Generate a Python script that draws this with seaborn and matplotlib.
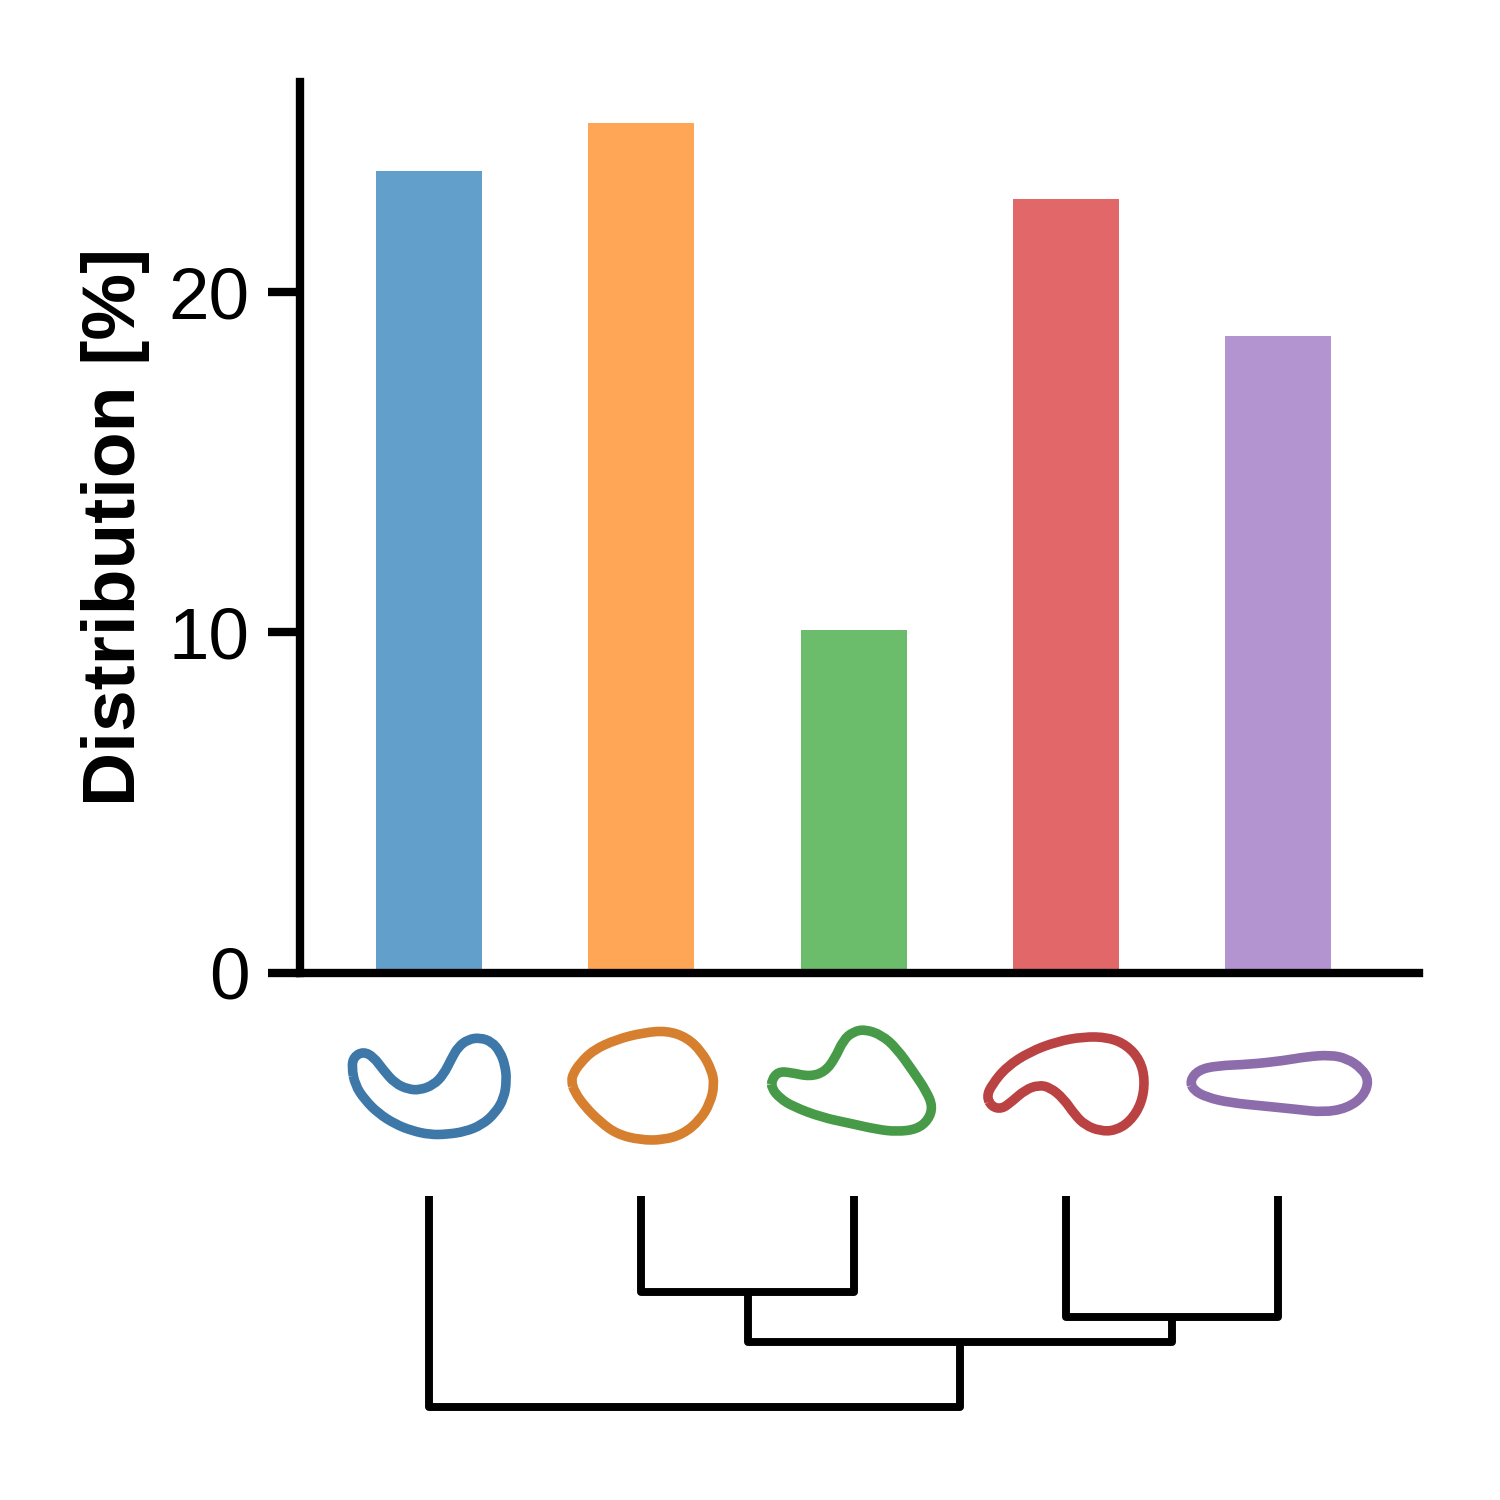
import numpy as np
import pandas as pd
import seaborn as sns
import matplotlib.pyplot as plt
from matplotlib.path import Path
from matplotlib.patches import PathPatch

sns.set_style('ticks')
plt.rcParams['font.family'] = ['Liberation Sans', 'DejaVu Sans']

# bar values
clusters = ['c1', 'c2', 'c3', 'c4', 'c5']
distribution = [23.57, 24.98, 10.07, 22.75, 18.72]
bar_colors = ['#1f77b4', '#ff7f0e', '#2ca02c', '#d62728', '#9467bd']
line_colors = ['#3d78a8', '#d67f2e', '#479a48', '#bb4243', '#8d6cab']
y_ticks = [0, 10, 20]

# outlines, x and y per shape
blue_x = [65, 72, 100, 130, 160, 195, 235, 270, 310, 340, 365, 385, 415, 450, 485, 510, 525, 530, 522, 495, 455, 405, 350, 300, 245, 195, 145, 105, 75]
blue_y = [170, 140, 125, 140, 180, 220, 238, 240, 225, 195, 145, 110, 88, 83, 95, 125, 165, 210, 265, 310, 345, 365, 373, 374, 362, 342, 310, 270, 225]
orange_x = [724, 730, 750, 790, 860, 940, 1010, 1070, 1115, 1145, 1153, 1140, 1110, 1060, 1000, 930, 860, 810, 765, 733]
orange_y = [213, 190, 160, 120, 88, 68, 62, 82, 125, 180, 225, 280, 330, 372, 390, 390, 372, 335, 290, 245]
green_x = [65, 85, 120, 180, 225, 255, 280, 310, 345, 395, 440, 490, 530, 548, 535, 500, 440, 380, 300, 215, 130, 90, 65]
green_y = [210, 185, 187, 200, 185, 145, 90, 65, 58, 75, 115, 185, 245, 290, 330, 358, 365, 358, 340, 322, 290, 265, 235]
red_x = [710, 725, 770, 840, 920, 1000, 1075, 1130, 1170, 1185, 1175, 1140, 1095, 1050, 1005, 975, 940, 900, 865, 825, 785, 755, 725]
red_y = [260, 225, 170, 125, 95, 80, 82, 105, 150, 210, 280, 335, 362, 363, 345, 315, 265, 232, 225, 240, 275, 297, 290]
purple_x = [180, 205, 260, 360, 460, 530, 600, 650, 695, 717, 700, 650, 580, 500, 400, 300, 230, 190]
purple_y = [212, 180, 167, 163, 152, 140, 135, 145, 175, 212, 260, 295, 307, 298, 288, 278, 262, 240]

# dendrogram: left leaf/link, right leaf/link, merge height
link_1 = (1, 2, 96)
link_2 = (3, 4, 121)
link_3_height = 146
link_4_height = 211

fig = plt.figure(figsize=(5, 5), dpi=300)
ax = fig.add_axes([300 / 1500, 1 - 972.5 / 1500, 1119 / 1500, 891 / 1500])

df = pd.DataFrame({'cluster': clusters, 'value': distribution})
sns.barplot(data=df, x='cluster', y='value', hue='cluster', palette=bar_colors,
            saturation=1, alpha=0.7, width=0.5, legend=False, linewidth=0, ax=ax)
ax.set_xlim(-0.608, 4.663)
ax.set_ylim(0, 26.2)
ax.set_yticks(y_ticks)
ax.set_xticks([])
ax.set_xlabel('')
ax.set_ylabel('Distribution [%]', fontsize=18, fontweight='bold', color='black', labelpad=4.5)
ax.tick_params(axis='y', length=7.7, width=2, labelsize=17.5, pad=4.3, color='black', labelcolor='black')
sns.despine(ax=ax)
for side in ['left', 'bottom']:
    ax.spines[side].set_linewidth(2)
    ax.spines[side].set_color('black')

# shapes, axes in picture pixels
shape_ax = fig.add_axes([0, 0, 1, 1])
shape_ax.set_xlim(0, 1500)
shape_ax.set_ylim(1500, 0)
shape_ax.axis('off')

shapes = [(blue_x, blue_y, 330, 1010), (orange_x, orange_y, 330, 1010), (green_x, green_y, 750, 1010),
          (red_x, red_y, 750, 1010), (purple_x, purple_y, 1130, 1010)]
for (sx, sy, x0, y0), col in zip(shapes, line_colors):
    pts = np.column_stack([np.array(sx) / 3 + x0, np.array(sy) / 3 + y0])
    mids = (pts + np.roll(pts, -1, axis=0)) / 2
    verts = [mids[-1]]
    codes = [Path.MOVETO]
    for p, m in zip(pts, mids):
        verts += [p, m]
        codes += [Path.CURVE3, Path.CURVE3]
    shape_ax.add_patch(PathPatch(Path(verts, codes), fill=False, edgecolor=col, lw=2.3))

# dendrogram shares the bar x scale
tree_ax = fig.add_axes([300 / 1500, 1 - 1420 / 1500, 1119 / 1500, 224 / 1500])
tree_ax.set_xlim(ax.get_xlim())
tree_ax.set_ylim(224, 0)
tree_ax.axis('off')


def draw_link(x_l, h_l, x_r, h_r, h):
    tree_ax.plot([x_l, x_l, x_r, x_r], [h_l, h, h, h_r], color='black', lw=1.9,
                 solid_joinstyle='round', solid_capstyle='butt', clip_on=False)
    return (x_l + x_r) / 2


mid_1 = draw_link(link_1[0], 0, link_1[1], 0, link_1[2])
mid_2 = draw_link(link_2[0], 0, link_2[1], 0, link_2[2])
mid_3 = draw_link(mid_1, link_1[2], mid_2, link_2[2], link_3_height)
draw_link(0, 0, mid_3, link_3_height, link_4_height)

plt.savefig('out.png', dpi=300)
